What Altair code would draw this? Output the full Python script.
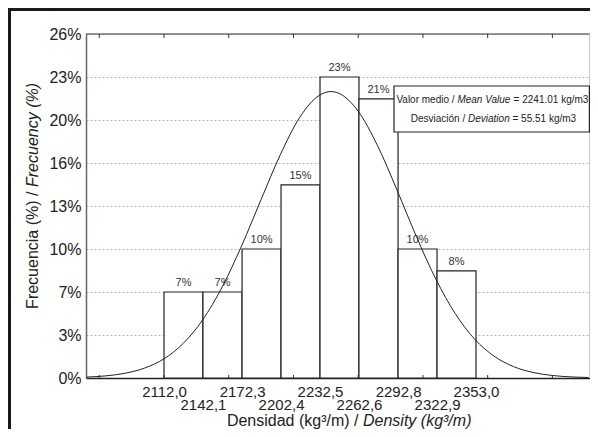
import json
import altair as alt
import pandas as pd

# ---------------- data ----------------
bin_start = [2112.0, 2142.1, 2172.3, 2202.4, 2232.5, 2262.6, 2292.8, 2322.9]
bin_end = [2142.1, 2172.3, 2202.4, 2232.5, 2262.6, 2292.8, 2322.9, 2353.0]
freq_pct = [6.5, 6.5, 9.75, 14.6, 22.75, 21.1, 9.75, 8.1]
freq_labels = ["7%", "7%", "10%", "15%", "23%", "21%", "10%", "8%"]

x_tick_values = [2112.0, 2142.1, 2172.3, 2202.4, 2232.5, 2262.6, 2292.8, 2322.9, 2353.0]
x_tick_labels = ["2112,0", "2142,1", "2172,3", "2202,4", "2232,5", "2262,6", "2292,8", "2322,9", "2353,0"]
y_tick_values = [0, 3.25, 6.5, 9.75, 13, 16.25, 19.5, 22.75, 26]
y_tick_labels = ["0%", "3%", "7%", "10%", "13%", "16%", "20%", "23%", "26%"]
minor_ticks = [2062, 2112, 2162, 2212, 2262, 2312, 2362, 2412]

curve_x = [2052, 2067, 2082, 2097, 2112, 2127, 2142, 2157, 2172, 2187, 2202, 2217, 2232, 2241,
           2247, 2262, 2277, 2292, 2307, 2322, 2337, 2352, 2367, 2382, 2397, 2412, 2427, 2440]
curve_y = [0.07, 0.16, 0.36, 0.75, 1.45, 2.63, 4.41, 6.89, 10.0, 13.49, 16.91, 19.72, 21.37, 21.65,
           21.52, 20.16, 17.55, 14.2, 10.68, 7.47, 4.86, 2.93, 1.65, 0.86, 0.42, 0.19, 0.08, 0.035]

x_domain = [2051.75, 2441.05]
y_domain = [0, 26]

# ---------------- layout ----------------
W, H = 504, 344
FONT = "Liberation Sans"
INK = "#222"

bars_df = pd.DataFrame({"start": bin_start, "end": bin_end, "pct": freq_pct, "label": freq_labels})
curve_df = pd.DataFrame({"x": curve_x, "y": curve_y})
minor_df = pd.DataFrame({"x": minor_ticks})
one = pd.DataFrame({"k": [0]})

xs = alt.Scale(domain=x_domain, nice=False, zero=False)
ys = alt.Scale(domain=y_domain, nice=False, zero=True)

x_label_expr = f"{json.dumps(x_tick_labels)}[indexof({json.dumps(x_tick_values)}, datum.value)]"
y_label_expr = f"{json.dumps(y_tick_labels)}[indexof({json.dumps(y_tick_values)}, datum.value)]"
odd_test = f"indexof({json.dumps(x_tick_values[1::2])}, datum.value) >= 0"

xaxis = alt.Axis(
    values=x_tick_values, labelExpr=x_label_expr, title=None, grid=False, ticks=False,
    labelPadding={"condition": {"test": odd_test, "value": 19}, "value": 6},
    labelFontSize=15, labelColor=INK, labelFont=FONT, labelOverlap=False, labelFlush=False,
    domainColor=INK, domainWidth=1.5,
)
yaxis = alt.Axis(
    values=y_tick_values, labelExpr=y_label_expr, title=None, ticks=False, labelPadding=5,
    labelFontSize=16, labelColor=INK, labelFont=FONT, labelOverlap=False,
    grid=True, gridColor="#b8b8b8", gridDash=[2, 2], gridWidth=1,
    domainColor="#666", domainWidth=1.5,
)

bars = alt.Chart(bars_df).mark_bar(fill="white", stroke=INK, strokeWidth=1.2).encode(
    x=alt.X("start:Q", scale=xs, axis=xaxis),
    x2="end:Q",
    y=alt.Y("pct:Q", scale=ys, axis=yaxis),
    y2=alt.datum(0),
)

bar_labels = alt.Chart(bars_df).transform_calculate(
    mid="(datum.start + datum.end) / 2"
).mark_text(dy=-6, baseline="alphabetic", fontSize=11, color="#333", font=FONT).encode(
    x=alt.X("mid:Q", scale=xs, axis=xaxis),
    y=alt.Y("pct:Q", scale=ys, axis=yaxis),
    text="label:N",
)

curve = alt.Chart(curve_df).mark_line(color=INK, strokeWidth=1, interpolate="monotone").encode(
    x=alt.X("x:Q", scale=xs, axis=xaxis),
    y=alt.Y("y:Q", scale=ys, axis=yaxis),
)

top_ticks = alt.Chart(minor_df).mark_rule(color="#333", strokeWidth=1).encode(
    x=alt.X("x:Q", scale=xs, axis=xaxis), y=alt.value(0), y2=alt.value(4)
)
bottom_ticks = alt.Chart(minor_df).mark_rule(color="#333", strokeWidth=1).encode(
    x=alt.X("x:Q", scale=xs, axis=xaxis), y=alt.value(H - 3), y2=alt.value(H)
)

top_line = alt.Chart(one).mark_rule(color="#333", strokeWidth=1.2).encode(
    x=alt.value(0), x2=alt.value(W), y=alt.value(0)
)
right_line = alt.Chart(one).mark_rule(color="#c8c8c8", strokeWidth=1).encode(
    x=alt.value(W - 0.5), y=alt.value(0), y2=alt.value(H)
)
frame_top = alt.Chart(one).mark_rule(color="#1a1a1a", strokeWidth=3).encode(
    x=alt.value(-78), x2=alt.value(W + 10), y=alt.value(-24.5)
)
frame_left = alt.Chart(one).mark_rule(color="#1a1a1a", strokeWidth=3).encode(
    x=alt.value(-76.5), y=alt.value(-26), y2=alt.value(H + 60)
)

box = alt.Chart(one).mark_rect(fill="white", stroke=INK, strokeWidth=1.2).encode(
    x=alt.value(308), x2=alt.value(W - 0.6), y=alt.value(52), y2=alt.value(98)
)


def txt(s, x, y, align="left", italic=False, size=10, angle=0):
    kw = dict(text=s, align=align, baseline="alphabetic", fontSize=size, color=INK, font=FONT,
              fontStyle="italic" if italic else "normal")
    if angle:
        kw["angle"] = angle
    return alt.Chart(one).mark_text(**kw).encode(x=alt.value(x), y=alt.value(y))


notes = [
    txt("Valor medio /", 368.6, 69, "right"),
    txt("Mean Value", 371.4, 69, "left", italic=True),
    txt("= 2241.01 kg/m3", 427.6, 69, "left"),
    txt("Desviación /", 379.2, 88, "right"),
    txt("Deviation", 382, 88, "left", italic=True),
    txt("= 55.51 kg/m3", 426.5, 88, "left"),
    # axis titles (mixed upright / italic)
    txt("Densidad (kg³/m) /", 272.5, 392, "right", size=16),
    txt("Density (kg³/m)", 277, 392, "left", italic=True, size=16),
    txt("Frecuencia (%) /", -48, 157.5, "right", size=16, angle=270),
    txt("Frecuency (%)", -48, 153, "left", italic=True, size=16, angle=270),
]

chart = alt.layer(
    bars, bar_labels, curve, top_ticks, bottom_ticks, top_line, right_line,
    frame_top, frame_left, box, *notes,
).properties(
    width=W, height=H,
    padding={"left": 78, "top": 26, "right": 0, "bottom": 51},
    autosize=alt.AutoSizeParams(type="none"),
).configure(font=FONT, background="white").configure_view(stroke=None)

chart.save("out.html", embed_options={"renderer": "svg", "actions": False})
